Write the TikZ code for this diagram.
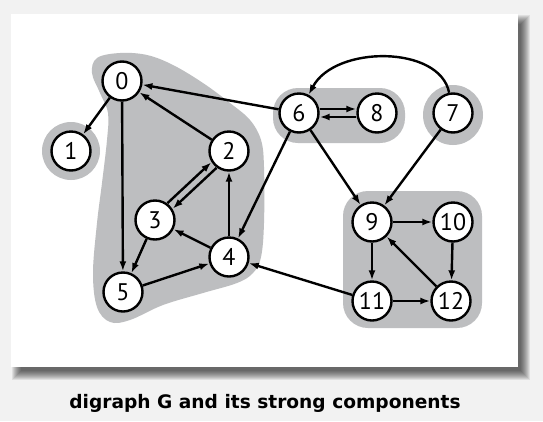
\documentclass[tikz,border=0pt]{standalone}
\usepackage{fontspec}
\setmainfont{PT Sans}
\newfontfamily\captionfont{DejaVu Sans}
\usetikzlibrary{arrows.meta}
\definecolor{scc}{RGB}{189,190,192}
\definecolor{backdrop}{RGB}{242,242,242}
\begin{document}
\begin{tikzpicture}[x=1pt,y=-1pt,
  vertex/.style={circle, draw, line width=2.4pt, fill=white, minimum size=39pt, inner sep=0pt, font=\fontsize{24}{24}\selectfont},
  edge/.style={line width=2.4pt, -{Latex[length=10pt,width=7pt]}}]
\fill[backdrop] (0,0) rectangle (543,421);
\foreach \i in {0,...,9}
  \fill[black, opacity=0.08] (12+\i,15+\i) rectangle (530-\i,380-\i);
\fill[white] (11,14) rectangle (518,367);

\fill[scc] plot[smooth cycle, tension=0.6] coordinates {(92,73) (97,58) (120,53) (147,55) (173,65) (203,83) (230,103) (250,120) (261,140) (264,167) (264,223) (261,257) (253,273) (237,283) (203,293) (163,305) (130,320) (110,322) (97,307) (93,273) (97,223) (102,183) (107,140) (108,113) (100,93)};
\fill[scc] (71,151) circle[radius=29];
\fill[scc] (453,115) circle[radius=30];
\fill[scc, rounded corners=25] (273,88) rectangle (405,143);
\fill[scc, rounded corners=25] (343,191) rectangle (482,328);

\node[vertex] (n0) at (122,81) {0};
\node[vertex] (n1) at (71,151) {1};
\node[vertex] (n2) at (229,151) {2};
\node[vertex] (n3) at (155,220) {3};
\node[vertex] (n4) at (229,257) {4};
\node[vertex] (n5) at (123,292) {5};
\node[vertex] (n6) at (299,113) {6};
\node[vertex] (n7) at (453,113) {7};
\node[vertex] (n8) at (377,113) {8};
\node[vertex] (n9) at (372,222) {9};
\node[vertex] (n10) at (453,222) {10};
\node[vertex] (n11) at (372,301) {11};
\node[vertex] (n12) at (451,301) {12};

\draw[edge] (n0) -- (n1);
\draw[edge] (n0) -- (n5);
\draw[edge] (n2) -- (n0);
\draw[edge] (n6) -- (n0);
\draw[edge, transform canvas={shift={(-2.6pt,2.8pt)}}] (n3) -- (n2);
\draw[edge, transform canvas={shift={(2.6pt,-2.8pt)}}] (n2) -- (n3);
\draw[edge] (n3) -- (n5);
\draw[edge] (n4) -- (n3);
\draw[edge] (n4) -- (n2);
\draw[edge] (n5) -- (n4);
\draw[edge] (n6) -- (n4);
\draw[edge] ([yshift=4pt]n6.east) -- ([yshift=4pt]n8.west);
\draw[edge] ([yshift=-4pt]n8.west) -- ([yshift=-4pt]n6.east);
\draw[edge] (n6) -- (n9);
\draw[edge] (n7) -- (n9);
\draw[edge] (n7) .. controls (440,45) and (335,45) .. (n6);
\draw[edge] (n9) -- (n10);
\draw[edge] (n9) -- (n11);
\draw[edge] (n10) -- (n12);
\draw[edge] (n12) -- (n9);
\draw[edge] (n11) -- (n12);
\draw[edge] (n11) -- (n4);

\node[font=\captionfont\bfseries\fontsize{18.6}{18.6}\selectfont, anchor=base] (caption) at (265,408) {digraph G and its strong components};
\end{tikzpicture}
\end{document}
